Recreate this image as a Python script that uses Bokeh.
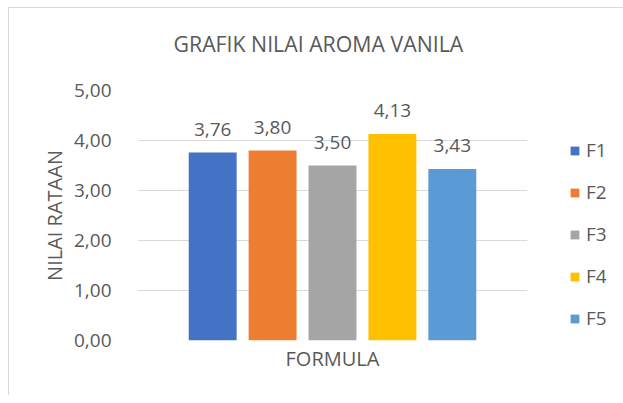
from bokeh.plotting import figure
from bokeh.models import (FactorRange, Range1d, ColumnDataSource, LabelSet, Legend, LegendItem,
                          CustomJSTickFormatter, FixedTicker, Title, LinearAxis)
from bokeh.core.properties import value
from bokeh.embed import file_html
from bokeh.resources import INLINE

# ---- data ----
series = ["F1", "F2", "F3", "F4", "F5"]
values = [3.76, 3.80, 3.50, 4.13, 3.43]
colors = ["#4472C4", "#ED7D31", "#A5A5A5", "#FFC000", "#5B9BD5"]
y_ticks = [0, 1, 2, 3, 4, 5]
title_text = "GRAFIK NILAI AROMA VANILA"
x_label = "FORMULA"
y_label = "NILAI RATAAN"

FONT = "Open Sans"
TXT = "#595959"

p = figure(
    x_range=FactorRange(factors=series, range_padding=0.302, range_padding_units="percent"),
    y_range=Range1d(0, 5),
    x_axis_type=None,
    frame_width=390, frame_height=250,
    min_border_left=128, min_border_top=82, min_border_bottom=55, min_border_right=90,
    output_backend="svg", toolbar_location=None,
)
p.styles = {"margin-left": "8px", "margin-top": "7px",
            "border-top": "1px solid #d9d9d9", "border-left": "1px solid #d9d9d9"}

p.title = Title(text=title_text, align="left", offset=36, text_font=FONT, text_font_size="21.3px",
                text_color=TXT, text_font_style="normal", standoff=0,
                padding=dict(left=0, right=0, top=0, bottom=33))

renderers = []
for s, v, c in zip(series, values, colors):
    r = p.vbar(x=[s], top=[v], width=0.8, fill_color=c, line_color=None)
    renderers.append((s, r))

src = ColumnDataSource(dict(x=series, y=values, t=[f"{v:.2f}".replace(".", ",") for v in values]))
labels = LabelSet(x="x", y="y", text="t", source=src, y_offset=17, text_align="center",
                  text_baseline="alphabetic", text_font=value(FONT), text_font_size=value("19px"),
                  text_color=TXT)
p.add_layout(labels)

# y axis
p.yaxis.ticker = FixedTicker(ticks=y_ticks)
p.yaxis.formatter = CustomJSTickFormatter(code="return tick.toFixed(2).replace('.', ',');")
p.yaxis.axis_line_color = None
p.yaxis.major_tick_line_color = None
p.yaxis.minor_tick_line_color = None
p.yaxis.major_label_text_font = FONT
p.yaxis.major_label_text_font_size = "19px"
p.yaxis.major_label_text_color = TXT
p.yaxis.major_label_standoff = 20
p.yaxis.axis_label = y_label
p.yaxis.axis_label_text_font = FONT
p.yaxis.axis_label_text_font_size = "20px"
p.yaxis.axis_label_text_font_style = "normal"
p.yaxis.axis_label_text_color = TXT
p.yaxis.axis_label_standoff = 3

# x axis: only the title "FORMULA", no tick labels
xaxis = LinearAxis(ticker=FixedTicker(ticks=[]), axis_label=x_label,
                   axis_line_color=None, major_tick_line_color=None, minor_tick_line_color=None,
                   major_label_standoff=0, axis_label_standoff=4,
                   axis_label_text_font=FONT, axis_label_text_font_size="20px",
                   axis_label_text_font_style="normal", axis_label_text_color=TXT)
p.add_layout(xaxis, "below")

p.ygrid.grid_line_color = "#d9d9d9"
p.ygrid.grid_line_width = 1
p.outline_line_color = None

legend = Legend(items=[LegendItem(label=s, renderers=[r]) for s, r in renderers],
                location=(42, 9), orientation="vertical",
                glyph_width=11, glyph_height=11, label_height=11, spacing=16,
                label_standoff=6, padding=0, margin=0,
                label_text_font=FONT, label_text_font_size="19px", label_text_color=TXT,
                border_line_color=None, background_fill_alpha=0)
p.add_layout(legend, "right")

open("out.html", "w").write(file_html(p, INLINE))
